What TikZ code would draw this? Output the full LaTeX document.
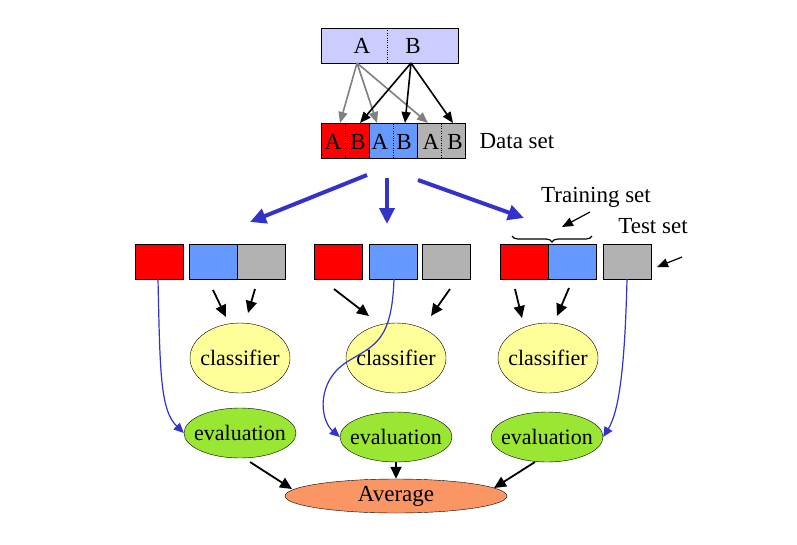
\documentclass[tikz,border=0pt]{standalone}
\usepackage{fontspec}
\setmainfont{Liberation Serif}
\usetikzlibrary{arrows.meta,decorations.pathreplacing,shapes.geometric}
\definecolor{topc}{RGB}{204,204,255}
\definecolor{redc}{RGB}{255,0,0}
\definecolor{bluec}{RGB}{102,153,255}
\definecolor{grayc}{RGB}{178,178,178}
\definecolor{yel}{RGB}{255,255,153}
\definecolor{grn}{RGB}{153,230,51}
\definecolor{avg}{RGB}{250,150,100}
\definecolor{arrb}{RGB}{51,51,204}
\begin{document}
\begin{tikzpicture}[x=1pt,y=-1pt,
 box/.style={draw,minimum width=48pt,minimum height=35pt,inner sep=0pt,outer sep=0pt},
 cls/.style={ellipse,draw,fill=yel,minimum width=100pt,minimum height=70pt,font=\fontsize{22}{22}\selectfont,inner xsep=-12pt,inner ysep=0pt},
 ev/.style={ellipse,draw,fill=grn,minimum width=112pt,minimum height=50pt,font=\fontsize{22}{22}\selectfont,inner xsep=-12pt,inner ysep=0pt},
 blk/.style={-{Triangle[length=12pt,width=11pt]},line width=1.8pt},
 grayarr/.style={-{Triangle[length=11pt,width=9pt]},line width=1.6pt,draw=gray},
 blackarr/.style={-{Triangle[length=11pt,width=9pt]},line width=1.6pt},
 big/.style={-{Triangle[length=16pt,width=15pt]},line width=4pt,draw=arrb},
 curv/.style={-{Triangle[length=10pt,width=9pt]},line width=1.2pt,draw=arrb},
 lab/.style={font=\fontsize{23}{23}\selectfont}]
\useasboundingbox (0,0) rectangle (797,544);
\fill[white] (0,0) rectangle (797,544);
% top box
\node[draw,fill=topc,minimum width=137pt,minimum height=35pt,inner sep=0pt] (top) at (389.5,45.5) {};
\draw[dotted] (387,28) -- (387,63);
\node[lab] (ta) at (362,46) {A};
\node[lab] (tb) at (413,46) {B};
% data set
\node[box,fill=redc] (d1) at (345,141) {};
\node[box,fill=bluec] (d2) at (393,141) {};
\node[box,fill=grayc] (d3) at (441,141) {};
\foreach \n in {d1,d2,d3}{\draw[dotted] (\n.north) -- (\n.south);}
\node[lab] (d1a) at (333,142) {A};\node[lab] (d1b) at (358,142) {B};
\node[lab] (d2a) at (380,142) {A};\node[lab] (d2b) at (404,142) {B};
\node[lab] (d3a) at (431,142) {A};\node[lab] (d3b) at (455,142) {B};
\node[lab,anchor=west] (ds) at (476,141) {Data set};
\coordinate (sa) at (357,63); \coordinate (sb) at (411,63);
\draw[grayarr] (sa) -- (340,123);
\draw[grayarr] (sa) -- (377,123);
\draw[grayarr] (sa) -- (428,123);
\draw[blackarr] (sb) -- (360,123);
\draw[blackarr] (sb) -- (405,123);
\draw[blackarr] (sb) -- (453,123);
% big arrows
\draw[big] (367,175) -- (250,222);
\draw[big] (387,178) -- (387,224);
\draw[big] (418,180) -- (524,218);
% labels
\node[lab] (tr) at (596,197) {Training set};
\draw[blackarr,line width=1.2pt] (590,212) -- (562,227);
\draw[decorate,decoration={brace,amplitude=6pt,mirror},line width=1.2pt] (512,236) -- (592,236);
\node[lab] (ts) at (653,226) {Test set};
\draw[blackarr,line width=1.2pt] (682,257) -- (657,267);
% row boxes
\node[box,fill=redc] (r1) at (159,261.5) {};
\node[box,fill=bluec] (b1) at (213,261.5) {};
\node[box,fill=grayc] (g1) at (261,261.5) {};
\node[box,fill=redc] (r2) at (338.5,261.5) {};
\node[box,fill=bluec] (b2) at (393,261.5) {};
\node[box,fill=grayc] (g2) at (446.5,261.5) {};
\node[box,fill=redc] (r3) at (524,261.5) {};
\node[box,fill=bluec] (b3) at (572,261.5) {};
\node[box,fill=grayc] (g3) at (627,261.5) {};
% ellipses
\node[cls] (c1) at (240,358) {classifier};
\node[cls] (c2) at (396,358) {classifier};
\node[cls] (c3) at (548,358) {classifier};
\node[ev] (e1) at (240,433) {evaluation};
\node[ev] (e2) at (396,437) {evaluation};
\node[ev] (e3) at (547,437) {evaluation};
\node[ellipse,draw,fill=avg,minimum width=222pt,minimum height=34pt,inner sep=0pt,lab] (av) at (396,496) {Average};
% black arrows
\draw[blk] (213,290) -- (226,317);
\draw[blk] (255,289) -- (248,313);
\draw[blk] (334,289) -- (369,316);
\draw[blk] (450,289) -- (431,316);
\draw[blk] (515,289) -- (522,318);
\draw[blk] (569,288) -- (557,316);
\draw[blk] (250,462) -- (292,489);
\draw[blk] (e2.south) -- (av.north);
\draw[blk] (535,462) -- (494,488);
% blue curves
\draw[curv] (158,279) .. controls (160,370) and (160,410) .. (e1.west);
\draw[curv] (394,279) .. controls (392,340) and (375,345) .. (350,360) .. controls (315,380) and (320,420) .. (e2.west);
\draw[curv] (627,279) .. controls (625,360) and (620,410) .. (e3.east);
\end{tikzpicture}
\end{document}
